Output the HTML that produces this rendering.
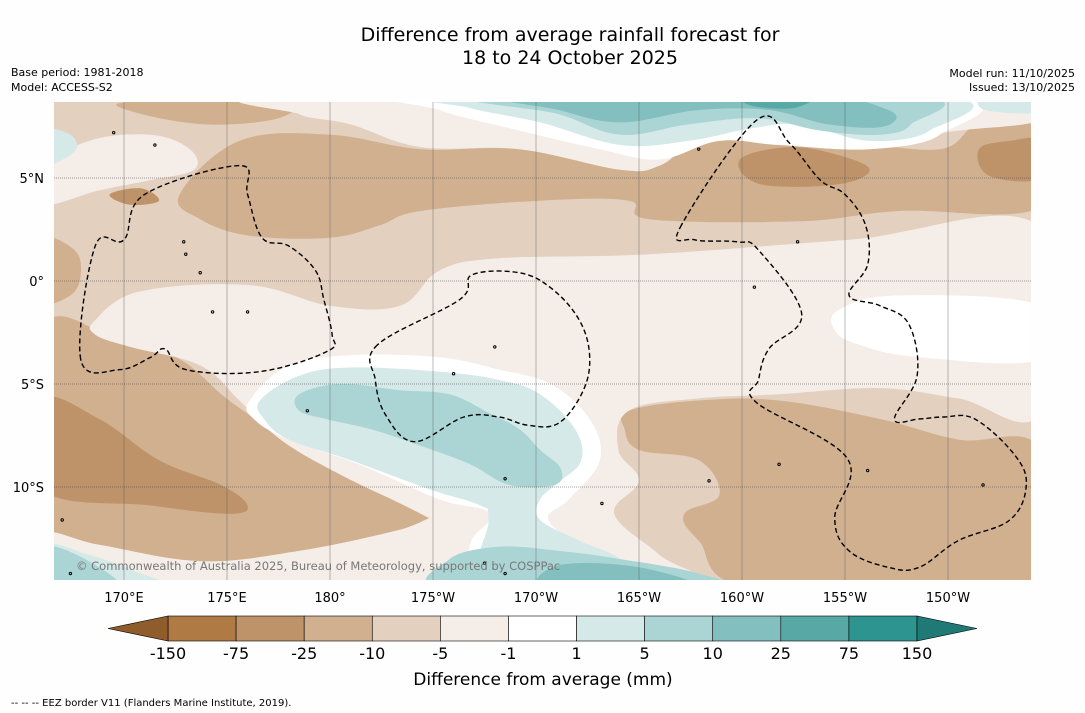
<!DOCTYPE html>
<html><head><meta charset="utf-8">
<style>
body{margin:0;background:#fff;}
svg{display:block;font-family:"DejaVu Sans","Liberation Sans",sans-serif;}
</style></head>
<body>
<svg id="chart" width="1085" height="713" viewBox="0 0 1085 713">
<rect width="1085" height="713" fill="#fefefe"/>
<text x="570" y="41" font-size="19" text-anchor="middle">Difference from average rainfall forecast for</text>
<text x="570" y="64" font-size="19" text-anchor="middle">18 to 24 October 2025</text>
<text x="11" y="76" font-size="11">Base period: 1981-2018</text>
<text x="11" y="91" font-size="11">Model: ACCESS-S2</text>
<text x="1075" y="77" font-size="11" text-anchor="end">Model run: 11/10/2025</text>
<text x="1075" y="91" font-size="11" text-anchor="end">Issued: 13/10/2025</text>
<defs><clipPath id="mapclip"><rect x="54" y="102" width="977" height="478"/></clipPath></defs>
<g id="map" clip-path="url(#mapclip)"></g>
<g id="axes"></g>
<g id="cbar"></g>
<text x="543" y="685" font-size="17" text-anchor="middle">Difference from average (mm)</text>
<text x="11" y="706" font-size="10">--  --  -- EEZ border V11 (Flanders Marine Institute, 2019).</text>
</svg>
<script>
const lonTicks=[170,175,180,185,190,195,200,205,210];
const lonLabels=["170°E","175°E","180°","175°W","170°W","165°W","160°W","155°W","150°W"];
const latTicks=[5,0,-5,-10];
const latLabels=["5°N","0°","5°S","10°S"];
const cbarLevels=["-150","-75","-25","-10","-5","-1","1","5","10","25","75","150"];
const cbarColors=["#b07a44","#be9369","#d1b08f","#e3d0bf","#f4ede8","#ffffff","#d5e9e8","#abd5d4","#82bfbe","#58a8a6","#2e9490"];
const cbarLow="#8f5c2c", cbarHigh="#1f7a75";

// Contour regions [lon (E, 0-360), lat]
const regionBase=[[166,9],[215,9],[215,-15],[166,-15]];
const regions25=[
[[170.3,8.7],[177.6,8.7],[177.5,7.9],[174,7.6],[170.5,8.2]],
[[172.7,4.2],[175.6,6.8],[180,7.1],[184.4,6.4],[189.2,6.4],[194.1,5.4],[196,5.6],[197.9,6.8],[200.8,7.3],[205.2,6.8],[209.6,6.4],[211.5,7.6],[214.5,7.7],[214.5,3.6],[207.6,3.4],[202.8,2.9],[195.5,3],[194.5,3.9],[190.2,3.9],[184.4,3.4],[182.4,2.7],[180,2.1],[176.1,2.2],[173.7,3]],
[[166,2],[167.6,1.5],[167.9,0.3],[167.4,-0.7],[166,-0.9]],
[[166,-2.4],[169.8,-2.9],[172.7,-3.8],[175.1,-5.8],[178,-7.7],[180.9,-9.1],[184.3,-10.6],[186.7,-11.1],[183.3,-12.1],[178.5,-13.1],[173.7,-13.6],[168.8,-12.8],[166,-12.4]],
[[194.5,-6.3],[197.9,-5.8],[201.8,-5.8],[206.7,-6.7],[210.5,-7.7],[214.5,-8.2],[214.5,-15],[200.8,-15],[197.9,-12.6],[197.2,-11.3],[198.9,-10.4],[197.9,-8.7],[195,-8.2],[194.3,-7.2]]
];
const regions75=[
[[199.9,5.9],[202.3,6.5],[204.7,6.1],[206.2,5.4],[204.7,4.7],[200.9,4.7]],
[[211.5,6.4],[213,6.8],[214.5,6.8],[214.5,5],[212,5.1]],
[[166,-5.8],[168.8,-6.7],[171.7,-8.7],[174.7,-9.9],[176,-10.9],[175.1,-11.3],[171.3,-10.9],[166,-10.1]],
[[169.3,4.2],[170.8,4.5],[171.7,3.9],[170.3,3.7]]
];
const regions5=[
[[178.5,9],[214.5,9],[214.5,7.8],[210.5,7.3],[206.2,6.8],[201.8,7.6],[197.9,6.8],[196,5.6],[194.1,5.4],[189.2,6.4],[184.4,6.5],[181,7.6],[178.5,8.1]],
[[166,5.4],[168.3,6.8],[171.3,7.1],[173.2,6.4],[173.4,5.4],[171.3,4.9],[168.8,4.4],[166,3.7]],
[[168.6,-1.9],[170.8,-0.5],[176.1,-0.2],[180,-1.2],[183.4,-1.2],[185.3,0.5],[188.2,1.1],[195.5,1.3],[205.2,2],[214.5,2.6],[214.5,-6.3],[210.5,-5.7],[206.7,-5.2],[201.8,-5.5],[197.9,-5.7],[194.5,-6.3],[194,-8.2],[195,-9.7],[193.8,-11.3],[196,-13.3],[197.9,-15],[184.8,-15],[186.8,-12.8],[184.4,-11.3],[180.5,-9.4],[177.6,-7.7],[175.6,-5.8],[173.7,-4.1],[170.3,-3.2],[168.6,-2.6]],
[[166,-12.3],[168.8,-12.8],[173.7,-13.6],[178.5,-13.1],[183.3,-12.1],[186.7,-11.1],[186.8,-15],[166,-15]]
];
const regions1=[
[[204.7,-1.4],[207.6,-0.7],[214.5,-1.2],[214.5,-3.8],[208.6,-3.7],[205.7,-3.1],[204.5,-2.4]],
[[176.1,-5.8],[178,-4.1],[181,-3.6],[185.3,-3.7],[188.2,-4.3],[190.7,-5],[192.6,-6.7],[193.1,-8.7],[191.6,-10.6],[190.6,-11.6],[192.6,-13.1],[195,-14],[196,-15],[187.3,-15],[186.8,-12.8],[187.8,-11.3],[185.3,-10.6],[181.4,-8.9],[178,-7.7],[176.3,-6.7]],
[[184.8,9],[209.6,9],[209.6,7.1],[206.2,6.4],[201.8,6.6],[198.9,6.8],[196,5.9],[193.1,6.4],[189.2,7.3],[185.3,8.3]]
];
const regionsP5=[
[[176.6,-5.8],[178.5,-4.6],[181,-4.2],[185.3,-4.4],[188.2,-4.8],[190.2,-5.5],[191.9,-7.2],[192.2,-8.7],[191.2,-9.7],[190.2,-10.6],[190.2,-11.6],[192.1,-12.6],[194.1,-13.5],[195.5,-15],[187.7,-15],[187.7,-11.6],[187.3,-10.9],[184.8,-10.1],[181,-8.7],[178,-7.7],[176.8,-6.7]],
[[185.8,9],[209.3,9],[209.1,7.3],[206.2,6.8],[202.8,7.6],[200.4,7.4],[197.4,6.8],[194.1,6.6],[190.2,7.7],[186.8,8.4]],
[[166,-12.8],[168.3,-13.3],[170.3,-14],[172.2,-15],[166,-15]],
[[166,7.3],[167.4,7.1],[167.6,6.3],[166,5.6]],
[[211.8,9],[214.5,9],[214.5,8.2],[211.8,8.3]]
];
const regionsP10=[
[[178.5,-5.5],[180.5,-5],[183.4,-5.3],[185.8,-5.5],[187.7,-6.4],[189.2,-7.2],[190.2,-8.2],[191.2,-9.1],[190.9,-9.9],[188.7,-9.9],[186.8,-8.9],[184.4,-8],[182,-7.2],[179.8,-6.7],[178.5,-6.3]],
[[187.3,9],[208.1,9],[208.2,7.6],[206.7,7.1],[203.8,7.3],[200.8,7.9],[197.4,7.6],[194.1,7.1],[191.1,8.1]],
[[185.8,-13.5],[188.2,-12.9],[191.1,-13.1],[194.1,-13.5],[197.9,-14.2],[198.9,-15],[185.8,-15]],
[[166,-12.9],[168.3,-13.6],[169.8,-15],[166,-15]]
];
const regionsP25=[
[[188.7,9],[202.8,9],[207.1,8.3],[206.9,7.5],[204.2,7.6],[201.3,8.3],[197.9,8.3],[194.1,7.7],[191.1,8.3]],
[[191.1,-13.8],[195,-13.9],[197.9,-15],[190.6,-15]]
];
const regionsP75=[[[200.1,9],[203.4,9],[202.5,8.4],[200.5,8.5]]];
const eezBorders=[
[[167.9,-3.8],[168.6,1.7],[170,2],[171,4.2],[175.6,5.6],[176,4.2],[176.7,2.1],[178,1.7],[179.3,0.5],[179.7,-0.9],[180.1,-2.6],[179.9,-3.4],[176.6,-4.4],[173,-4.3],[172,-3.3],[171.3,-3.7],[169.8,-4.3]],
[[182.3,-3.1],[182.2,-4.8],[182.7,-6.5],[184.1,-7.8],[186.5,-6.6],[188.2,-6.6],[189.6,-7],[191.1,-6.9],[192.3,-5.3],[192.6,-3.6],[192.1,-1.9],[190.8,-0.4],[189.2,0.4],[186.9,0.3],[186.3,-0.9]],
[[197,2.6],[200.7,7.8],[202.3,6.7],[203.8,4.9],[205,4.2],[206,2.7],[206.1,0.8],[205.2,-0.7],[206.7,-1.2],[208.1,-2.1],[208.5,-4.6],[207.4,-6.7],[208.6,-6.7],[209.8,-6.6],[211.3,-6.7],[213.2,-8.4],[213.8,-9.9],[213,-11.6],[210.5,-12.6],[208.6,-13.9],[207.1,-13.9],[205.2,-13.1],[204.5,-11.5],[205.1,-8.6],[200.7,-5.9],[200.8,-4.8],[201.3,-3.3],[202.9,-1.6],[200.8,1.5],[199.8,1.9],[197.7,2]]
];
const islands=[[172.9,1.9],[173,1.3],[173.7,0.4],[174.3,-1.5],[176,-1.5],[178.9,-6.3],[186,-4.5],[188,-3.2],[188.5,-9.6],[193.2,-10.8],[198.4,-9.7],[201.8,-8.9],[206.1,-9.2],[211.7,-9.9],[202.7,1.9],[200.6,-0.3],[197.9,6.4],[169.5,7.2],[171.5,6.6],[167.4,-14.2],[167,-11.6],[187.5,-13.7],[188.5,-14.2]];

const NS="http://www.w3.org/2000/svg";
const X=lon=>124+(lon-170)*20.6;
const Y=lat=>281-lat*20.6;
function smoothPath(pts,closed){
  const p=pts.map(d=>[X(d[0]),Y(d[1])]);const n=p.length;
  let s="M"+p[0][0].toFixed(1)+","+p[0][1].toFixed(1);
  const last=closed?n:n-1;
  for(let i=0;i<last;i++){
    const p0=p[(i-1+n)%n],p1=p[i],p2=p[(i+1)%n],p3=p[(i+2)%n];
    const t=0.18;
    s+=" C"+(p1[0]+(p2[0]-p0[0])*t).toFixed(1)+","+(p1[1]+(p2[1]-p0[1])*t).toFixed(1)+" "+(p2[0]-(p3[0]-p1[0])*t).toFixed(1)+","+(p2[1]-(p3[1]-p1[1])*t).toFixed(1)+" "+p2[0].toFixed(1)+","+p2[1].toFixed(1);
  }
  return s+(closed?"Z":"");
}
const map=document.getElementById("map");
const base=document.createElementNS(NS,"path");
base.setAttribute("d",smoothPath(regionBase,true));
base.setAttribute("fill",cbarColors[3]);


map.appendChild(base);
const layers=[[regions25,cbarColors[2],"contour-minus25-to-minus10"],[regions75,cbarColors[1],"contour-minus75-to-minus25"],[regions5,cbarColors[4],"contour-minus5-to-minus1"],[regions1,cbarColors[5],"contour-minus1-to-1"],[regionsP5,cbarColors[6],"contour-1-to-5"],[regionsP10,cbarColors[7],"contour-5-to-10"],[regionsP25,cbarColors[8],"contour-10-to-25"],[regionsP75,cbarColors[9],"contour-25-to-75"]];
layers.forEach(L=>{L[0].forEach(r=>{
  const el=document.createElementNS(NS,"path");
  el.setAttribute("d",smoothPath(r,true));el.setAttribute("fill",L[1]);
  
  
  map.appendChild(el);
});});
islands.forEach(d=>{
  const el=document.createElementNS(NS,"circle");
  el.setAttribute("cx",X(d[0]));el.setAttribute("cy",Y(d[1]));el.setAttribute("r",1.2);el.setAttribute("fill","none");el.setAttribute("stroke","#000");el.setAttribute("stroke-width","1");
  
  
  map.appendChild(el);
});
lonTicks.forEach(v=>{
  const el=document.createElementNS(NS,"line");
  el.setAttribute("x1",X(v));el.setAttribute("x2",X(v));el.setAttribute("y1",102);el.setAttribute("y2",580);el.setAttribute("stroke","#555");el.setAttribute("stroke-width","0.4");
  
  
  map.appendChild(el);
});
latTicks.forEach(v=>{
  const el=document.createElementNS(NS,"line");
  el.setAttribute("x1",54);el.setAttribute("x2",1031);el.setAttribute("y1",Y(v));el.setAttribute("y2",Y(v));el.setAttribute("stroke","#444");el.setAttribute("stroke-width","0.5");el.setAttribute("stroke-dasharray","1,1");
  
  
  map.appendChild(el);
});
eezBorders.forEach(b=>{
  const el=document.createElementNS(NS,"path");
  el.setAttribute("d",smoothPath(b,true));
  el.setAttribute("fill","none");el.setAttribute("stroke","#000");el.setAttribute("stroke-width","1.4");el.setAttribute("stroke-dasharray","5,3");
  
  
  map.appendChild(el);
});
const cp=document.createElementNS(NS,"text");
cp.setAttribute("x",76);cp.setAttribute("y",570);cp.setAttribute("font-size","11.5");cp.setAttribute("fill","#777");
cp.textContent="© Commonwealth of Australia 2025, Bureau of Meteorology, supported by COSPPac";


map.appendChild(cp);

const axes=document.getElementById("axes");
lonTicks.forEach((v,i)=>{
  const t=document.createElementNS(NS,"text");
  t.setAttribute("x",X(v));t.setAttribute("y",602);t.setAttribute("font-size","13");t.setAttribute("text-anchor","middle");
  t.textContent=lonLabels[i];
  
  
  axes.appendChild(t);
});
latTicks.forEach((v,i)=>{
  const t=document.createElementNS(NS,"text");
  t.setAttribute("x",44);t.setAttribute("y",Y(v)+5);t.setAttribute("font-size","13");t.setAttribute("text-anchor","end");
  t.textContent=latLabels[i];
  
  
  axes.appendChild(t);
});

const cbar=document.getElementById("cbar");
const cx0=168,cw=(917-168)/cbarColors.length,cy=616,ch=25;
cbarColors.forEach((c,i)=>{
  const r=document.createElementNS(NS,"rect");
  r.setAttribute("x",cx0+i*cw);r.setAttribute("y",cy);r.setAttribute("width",cw);r.setAttribute("height",ch);r.setAttribute("fill",c);r.setAttribute("stroke","#000");r.setAttribute("stroke-width","0.6");
  
  
  cbar.appendChild(r);
});
const la=document.createElementNS(NS,"polygon");
la.setAttribute("points",cx0+","+cy+" "+cx0+","+(cy+ch)+" 108,"+(cy+ch/2));la.setAttribute("fill",cbarLow);la.setAttribute("stroke","#000");la.setAttribute("stroke-width","0.6");


cbar.appendChild(la);
const ra=document.createElementNS(NS,"polygon");
ra.setAttribute("points","917,"+cy+" 917,"+(cy+ch)+" 977,"+(cy+ch/2));ra.setAttribute("fill",cbarHigh);ra.setAttribute("stroke","#000");ra.setAttribute("stroke-width","0.6");


cbar.appendChild(ra);
cbarLevels.forEach((l,i)=>{
  const t=document.createElementNS(NS,"text");
  t.setAttribute("x",cx0+i*cw);t.setAttribute("y",659);t.setAttribute("font-size","16");t.setAttribute("text-anchor","middle");
  t.textContent=l;
  
  
  cbar.appendChild(t);
});
</script>
</body></html>
